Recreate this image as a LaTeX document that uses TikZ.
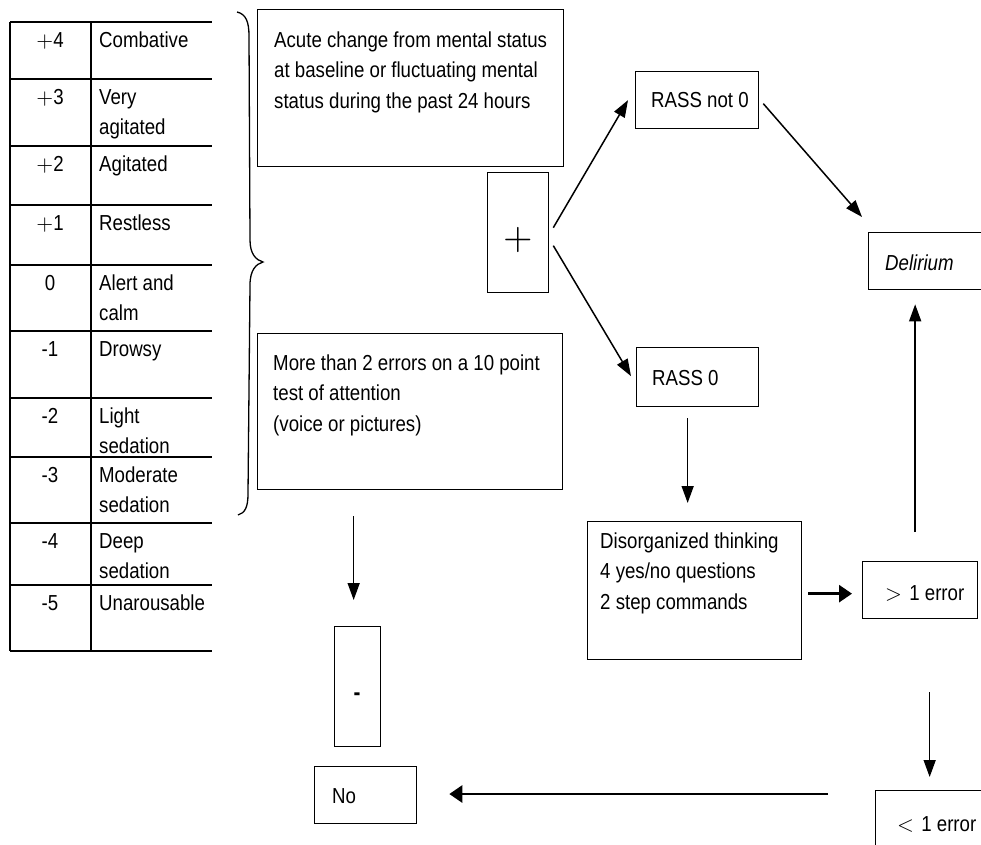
\documentclass[tikz,border=0pt]{standalone}
\usepackage{fontspec}
\setmainfont{Liberation Sans}[FakeStretch=0.86]
\newfontfamily\lmfont{lmroman10-regular.otf}
\usetikzlibrary{arrows.meta,calc}
\newcommand\mylines[1]{\parbox[t]{330pt}{\raggedright #1}}
\newcommand\pl{{\lmfont +}}
\tikzset{
  box/.style={draw, line width=1.3pt, inner sep=0pt, anchor=north west},
  txt/.style={anchor=base west, inner sep=0pt, font=\fontsize{21.7pt}{30.5pt}\selectfont},
  tline/.style={line width=1.6pt},
  arr/.style={-{Triangle[length=17pt,width=12pt]}, line width=1.5pt},
  thickarr/.style={-{Triangle[length=13pt,width=17pt]}, line width=2.7pt},
}
\begin{document}
\begin{tikzpicture}[x=1pt,y=1pt]
\useasboundingbox (0,0) rectangle (981,-844);
\clip (0,0) rectangle (981,-844);

% RASS table
\foreach \y in {22,79,146,205,265,331,398,457,523,585,651}
  \draw[tline] (10,-\y) -- (212,-\y);
\draw[line width=1.4pt] (10,-22) -- (10,-651) (91,-22) -- (91,-651);
\foreach \t/\n/\l [count=\k] in {22/{\pl4}/{Combative}, 79/{\pl3}/{Very\\agitated},
  146/{\pl2}/{Agitated}, 205/{\pl1}/{Restless}, 265/{0}/{Alert and\\calm},
  331/{-1}/{Drowsy}, 398/{-2}/{Light\\sedation}, 457/{-3}/{Moderate\\sedation},
  523/{-4}/{Deep\\sedation}, 585/{-5}/{Unarousable}} {
  \node[txt, anchor=base] (num\k) at (50,-\t-25) {\n};
  \node[txt] (lab\k) at (99,-\t-25) {\mylines{\l}};
}

% brace
\draw[line width=1.3pt] (237,-12) .. controls (246,-14) and (249,-22) .. (249,-36)
  -- (250,-240) .. controls (250,-254) and (256,-260) .. (263,-262)
  .. controls (256,-264) and (250,-270) .. (250,-285)
  -- (248,-494) .. controls (248,-507) and (245,-513) .. (238,-515);

% boxes
\node[box, minimum width=306pt, minimum height=157pt] (acute) at (257,-9) {};
\node[box, minimum width=61pt, minimum height=120pt] (plus) at (487,-172) {};
\node[box, minimum width=123pt, minimum height=57pt] (rassn) at (635,-71) {};
\node[box, minimum width=122pt, minimum height=59pt] (rass0) at (636,-347) {};
\node[box, minimum width=125pt, minimum height=57pt] (delir) at (868,-232) {};
\node[box, minimum width=305pt, minimum height=156pt] (more) at (257,-333) {};
\node[box, minimum width=214pt, minimum height=138pt] (disorg) at (587,-521) {};
\node[box, minimum width=115pt, minimum height=57pt] (err1) at (862,-561) {};
\node[box, minimum width=46pt, minimum height=120pt] (minus) at (334,-626) {};
\node[box, minimum width=102pt, minimum height=57pt] (no) at (314,-766) {};
\node[box, minimum width=125pt, minimum height=75pt] (err2) at (875,-790) {};

% texts
\node[txt] (acuteT) at (274,-47) {\mylines{Acute change from mental status\\at baseline or fluctuating mental\\status during the past 24 hours}};
\node[txt] (moreT) at (273,-370) {\mylines{More than 2 errors on a 10 point\\test of attention\\(voice or pictures)}};
\node[txt] (disT) at (600,-548) {\mylines{Disorganized thinking\\4 yes/no questions\\2 step commands}};
\node[txt] (rassnT) at (651,-107) {RASS not 0};
\node[txt] (rass0T) at (652,-385) {RASS 0};
\node[txt] (delT) at (885,-270) {\itshape Delirium};
\node[txt] (err1T) at (885,-600) {{\lmfont >}\,\,1 error};
\node[txt] (err2T) at (897,-831) {{\lmfont <}\,\,1 error};
\node[txt] (noT) at (332,-803) {No};
\node[inner sep=0pt, font=\fontsize{38pt}{38pt}\selectfont\lmfont] (plusT) at (518,-240) {+};
\node[txt, anchor=base, font=\fontsize{24pt}{24pt}\selectfont\bfseries] (minusT) at (357,-700) {-};

% connector end points
\coordinate (s1) at ([shift={(-10pt,-11pt)}]rass0.south);
\coordinate (t1) at ([yshift=18pt]disorg.north);
\coordinate (s2) at ([shift={(6pt,-3pt)}]disorg.east);
\coordinate (t2) at ([xshift=-10pt]err1.west);
\coordinate (s3) at ([shift={(-5pt,29pt)}]err1.north);
\coordinate (t3) at ([yshift=-14pt]delir.south);
\coordinate (s4) at ([shift={(9.5pt,-73pt)}]err1.south);
\coordinate (t4) at ([yshift=13pt]err2.north);
\coordinate (s5) at ([shift={(-47pt,-4pt)}]err2.north west);
\coordinate (t5) at ([xshift=32pt]no.east);
\coordinate (s6) at ([shift={(-56.5pt,-26pt)}]more.south);
\coordinate (t6) at ([yshift=26pt]minus.north);

% connectors
\draw[arr] ([shift={(4pt,5pt)}]plus.east) -- ([xshift=-7pt]rassn.west);
\draw[arr] ([shift={(4pt,-13pt)}]plus.east) -- ([shift={(-5pt,1pt)}]rass0.west);
\draw[arr] ([shift={(4pt,-3.5pt)}]rassn.east) -- ([shift={(-6pt,15pt)}]delir.north west);
\draw[arr] (s1) -- (s1 |- t1);
\draw[thickarr] (s2) -- (s2 -| t2);
\draw[arr] (s3) -- (s3 |- t3);
\draw[arr] (s4) -- (s4 |- t4);
\draw[thickarr] (s5) -- (s5 -| t5);
\draw[arr] (s6) -- (s6 |- t6);
\end{tikzpicture}
\end{document}
